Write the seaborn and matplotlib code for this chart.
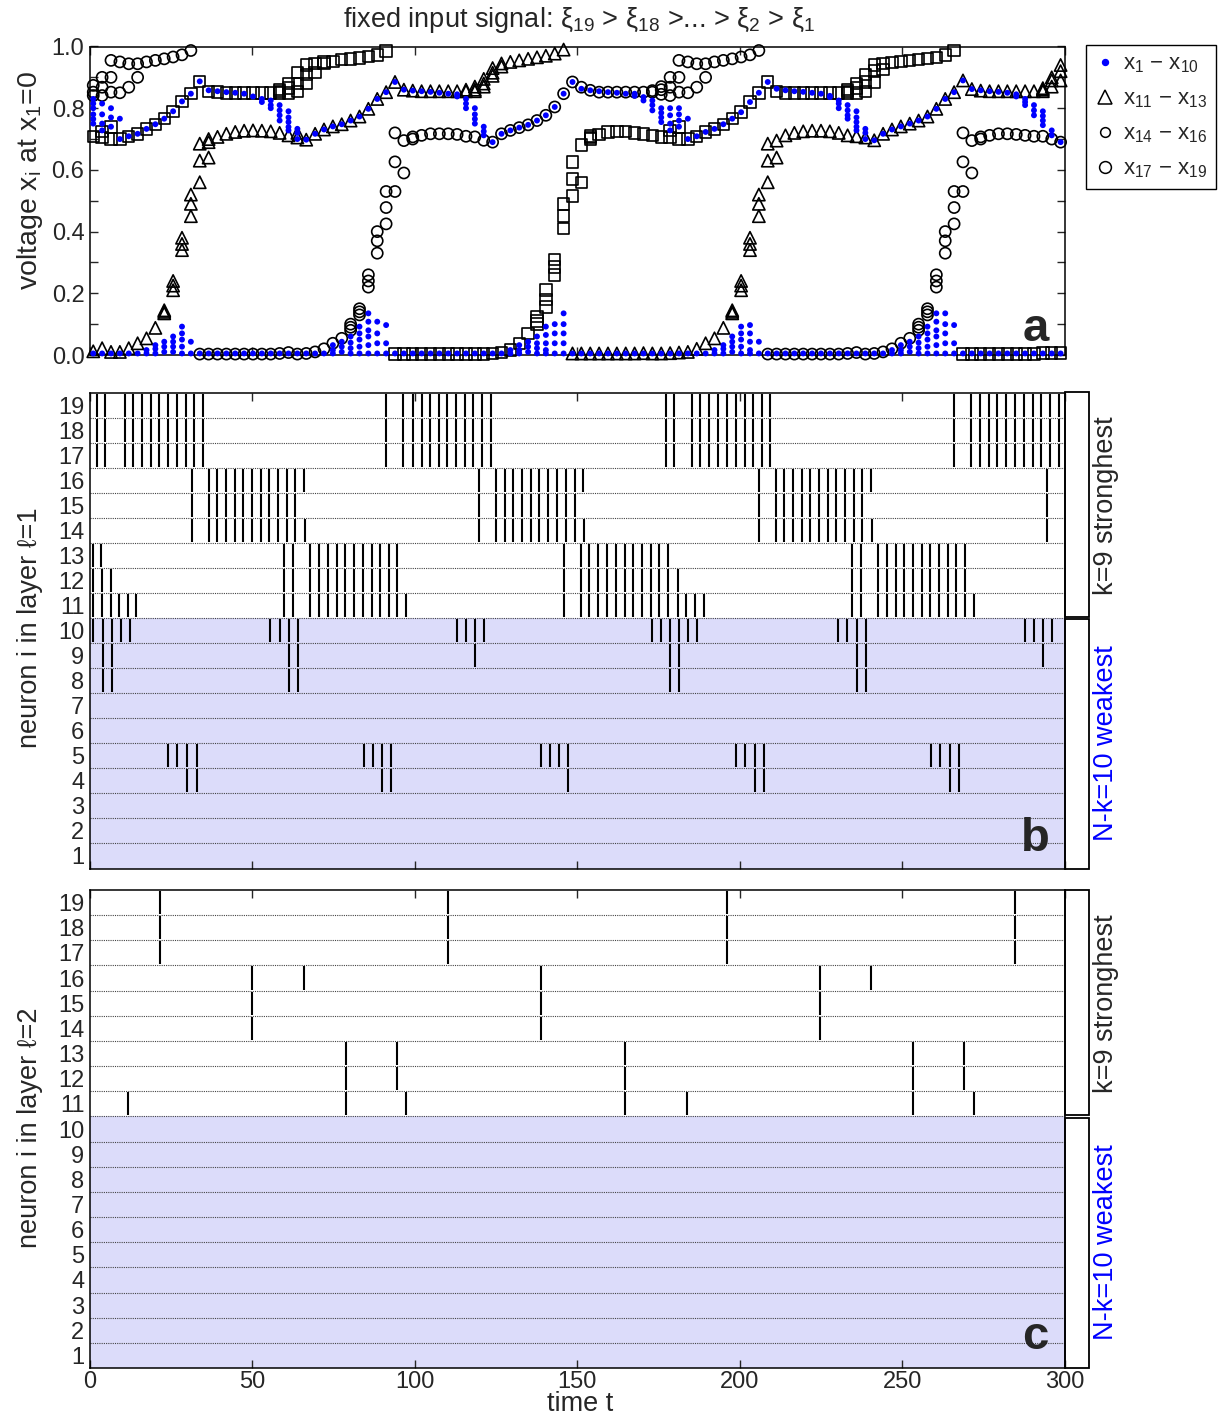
import numpy as np
import pandas as pd
import matplotlib
matplotlib.use("Agg")
import matplotlib.pyplot as plt
import seaborn as sns
from matplotlib.lines import Line2D
from matplotlib.patches import Rectangle
from matplotlib.ticker import MultipleLocator, FormatStrFormatter

# ---------------- data ----------------
# sample times of panel a
t_samples = np.linspace(1.0, 298.8, 110)

# triangles x11-x13 (one value, or the separate values where the markers split)
x11_13 = [
    0.012, 0.022, 0.010, 0.010, 0.022, 0.038, 0.054, 0.088, (0.135, 0.14, 0.145), (0.21, 0.225, 0.24),
    (0.34, 0.36, 0.38), (0.45, 0.49, 0.52), (0.56, 0.63, 0.685), (0.64, 0.69, 0.70), 0.707, 0.717, 0.723, 0.727, 0.728, 0.727,
    0.725, 0.72, 0.712, (0.705, 0.72), 0.698, 0.717, 0.731, 0.741, 0.748, 0.76,
    0.773, 0.798, 0.83, 0.852, 0.885, 0.86, 0.857, 0.855, 0.855, 0.855,
    0.855, 0.855, (0.855, 0.86), (0.86, 0.855, 0.87), (0.87, 0.895, 0.88), (0.905, 0.93, 0.915), (0.935, 0.945), 0.95, 0.955, 0.96,
    0.965, 0.97, 0.977, 0.99, 0.005, 0.005, 0.005, 0.005, 0.005, 0.005,
    0.005, 0.005, 0.006, 0.005, 0.005, 0.006, 0.008, 0.01, 0.02, 0.038,
    0.054, 0.088, (0.135, 0.14, 0.145), (0.21, 0.225, 0.24), (0.34, 0.36, 0.38), (0.45, 0.49, 0.52), (0.56, 0.63, 0.685), (0.64, 0.695), 0.712, 0.72,
    0.725, 0.727, 0.727, 0.725, 0.72, 0.712, 0.709, 0.705, 0.696, 0.717,
    0.731, 0.741, 0.75, 0.76, 0.773, 0.798, 0.83, 0.852, 0.89, 0.862,
    0.857, 0.855, 0.855, 0.855, 0.855, 0.855, 0.855, (0.855, 0.86, 0.865), (0.87, 0.89, 0.90), (0.89, 0.92, 0.94),
]

# squares x17-x19
x17_19 = [
    0.709, (0.725, 0.705), (0.739, 0.70), 0.70, 0.709, 0.717, 0.733, 0.748, 0.766, 0.79,
    0.822, 0.847, 0.887, 0.855, 0.852, 0.85, 0.85, 0.85, 0.85, 0.85,
    0.85, (0.85, 0.855, 0.86), (0.85, 0.865, 0.88), (0.855, 0.88, 0.915), (0.88, 0.91, 0.94), (0.915, 0.945), (0.945, 0.95), 0.952, 0.957, 0.96,
    0.963, 0.967, 0.973, 0.986, 0.003, 0.003, 0.003, 0.003, 0.003, 0.003,
    0.003, 0.003, 0.003, 0.003, 0.003, 0.004, 0.008, 0.016, 0.038, 0.07,
    (0.10, 0.11, 0.125), (0.155, 0.18, 0.21), (0.26, 0.285, 0.31), (0.41, 0.45, 0.49), (0.515, 0.57, 0.626), (0.56, 0.68), (0.70, 0.705, 0.71), 0.715, 0.723, 0.725,
    0.725, 0.72, 0.717, 0.712, 0.707, (0.728, 0.705), (0.739, 0.70), 0.70, 0.709, 0.723,
    0.733, 0.748, 0.766, 0.787, 0.82, 0.85, 0.885, 0.855, 0.85, 0.85,
    0.85, 0.85, 0.85, 0.85, 0.85, (0.85, 0.855, 0.86), (0.85, 0.865, 0.88), (0.855, 0.885, 0.91), (0.885, 0.92, 0.94), (0.925, 0.945),
    0.948, 0.952, 0.955, 0.958, 0.961, 0.965, 0.972, 0.987, 0.003, 0.003,
    0.003, 0.003, 0.003, 0.003, 0.003, 0.003, 0.003, 0.006, 0.006, 0.006,
]

# circles x14-x16
x14_16 = [
    (0.874, 0.852, 0.841), (0.90, 0.868, 0.841), (0.955, 0.90, 0.852), (0.95, 0.85), (0.944, 0.868), (0.944, 0.90), 0.95, 0.955, 0.96, 0.966,
    0.973, 0.987, 0.003, 0.003, 0.003, 0.003, 0.003, 0.003, 0.003, 0.003,
    0.003, 0.005, 0.008, 0.003, 0.005, 0.01, 0.02, 0.038, 0.054, (0.08, 0.09, 0.10),
    (0.13, 0.14, 0.15), (0.22, 0.24, 0.26), (0.33, 0.37, 0.40), (0.425, 0.478, 0.53), (0.53, 0.626, 0.72), (0.59, 0.695), (0.70, 0.707), 0.712, 0.717, 0.717,
    0.717, 0.715, 0.709, 0.707, 0.696, 0.69, 0.717, 0.728, 0.737, 0.746,
    0.76, 0.777, 0.804, 0.847, 0.885, 0.868, 0.858, 0.852, 0.852, 0.852,
    0.852, 0.852, 0.852, (0.852, 0.857), (0.86, 0.845, 0.87), (0.90, 0.868, 0.841), (0.955, 0.90, 0.852), (0.95, 0.85), (0.944, 0.868), (0.944, 0.90),
    0.95, 0.955, 0.96, 0.966, 0.973, 0.987, 0.003, 0.003, 0.003, 0.003,
    0.003, 0.003, 0.003, 0.003, 0.003, 0.005, 0.008, 0.003, 0.005, 0.01,
    0.02, 0.038, 0.054, (0.08, 0.09, 0.10), (0.13, 0.14, 0.15), (0.22, 0.24, 0.26), (0.33, 0.37, 0.40), (0.425, 0.478, 0.53), (0.53, 0.626, 0.72), (0.59, 0.695),
    (0.70, 0.707), 0.712, 0.717, 0.717, 0.715, 0.712, 0.709, 0.709, 0.70, 0.69,
]

# blue dots x1-x10: visible dot heights at each sample
x1_10 = [
    [0.83, 0.815, 0.80, 0.78, 0.765, 0.75, 0.005], [0.815, 0.78, 0.75, 0.728, 0.005], [0.80, 0.77, 0.74, 0.005], [0.766, 0.70, 0.005], [0.709, 0.005],
    [0.717, 0.005], [0.733, 0.016, 0.005], [0.748, 0.032, 0.02, 0.005], [0.766, 0.043, 0.027, 0.01], [0.79, 0.06, 0.043, 0.027, 0.01],
    [0.822, 0.092, 0.07, 0.05, 0.027, 0.005], [0.847, 0.043, 0.005], [0.887, 0.005], [0.858, 0.005], [0.855, 0.005],
    [0.852, 0.005], [0.85, 0.005], [0.847, 0.005], [0.838, 0.005], [0.83, 0.82, 0.005],
    [0.825, 0.81, 0.80, 0.005], [0.81, 0.793, 0.777, 0.76, 0.005], [0.79, 0.77, 0.755, 0.739, 0.728, 0.005], [0.733, 0.72, 0.70, 0.005], [0.698, 0.005],
    [0.717, 0.005], [0.731, 0.005], [0.741, 0.032, 0.016, 0.005], [0.748, 0.043, 0.027, 0.01], [0.76, 0.06, 0.04, 0.022, 0.005],
    [0.773, 0.092, 0.07, 0.05, 0.027, 0.005], [0.798, 0.135, 0.108, 0.08, 0.06, 0.032, 0.005], [0.83, 0.108, 0.07, 0.038, 0.005], [0.852, 0.097, 0.038, 0.005], [0.885, 0.005],
    [0.86, 0.005], [0.857, 0.005], [0.855, 0.005], [0.853, 0.005], [0.85, 0.005],
    [0.847, 0.005], [0.845, 0.838, 0.005], [0.83, 0.815, 0.80, 0.005], [0.80, 0.78, 0.765, 0.75, 0.005], [0.74, 0.725, 0.712, 0.005],
    [0.69, 0.005], [0.717, 0.005], [0.728, 0.016, 0.005], [0.737, 0.032, 0.016, 0.005], [0.746, 0.043, 0.027, 0.01],
    [0.76, 0.06, 0.038, 0.022, 0.005], [0.777, 0.092, 0.065, 0.038, 0.016, 0.005], [0.804, 0.10, 0.07, 0.038, 0.005], [0.847, 0.135, 0.10, 0.07, 0.038, 0.005], [0.885, 0.005],
    [0.863, 0.005], [0.858, 0.005], [0.855, 0.005], [0.852, 0.005], [0.85, 0.005],
    [0.847, 0.005], [0.847, 0.84, 0.005], [0.836, 0.825, 0.005], [0.825, 0.81, 0.793, 0.005], [0.80, 0.785, 0.77, 0.755, 0.005],
    [0.80, 0.777, 0.75, 0.728, 0.005], [0.80, 0.78, 0.76, 0.74, 0.005], [0.766, 0.70, 0.005], [0.709, 0.005], [0.723, 0.005],
    [0.733, 0.016, 0.005], [0.748, 0.032, 0.02, 0.005], [0.766, 0.06, 0.043, 0.027, 0.01], [0.787, 0.092, 0.07, 0.05, 0.027, 0.005], [0.82, 0.097, 0.07, 0.043, 0.016, 0.005],
    [0.85, 0.043, 0.005], [0.885, 0.005], [0.863, 0.005], [0.858, 0.005], [0.855, 0.005],
    [0.853, 0.005], [0.85, 0.005], [0.847, 0.005], [0.84, 0.836, 0.005], [0.825, 0.815, 0.80, 0.005],
    [0.81, 0.793, 0.777, 0.766, 0.005], [0.79, 0.77, 0.755, 0.74, 0.728, 0.005], [0.733, 0.72, 0.70, 0.005], [0.696, 0.005], [0.717, 0.005],
    [0.731, 0.016, 0.005], [0.741, 0.032, 0.016, 0.005], [0.75, 0.043, 0.027, 0.01], [0.76, 0.06, 0.04, 0.022, 0.005], [0.773, 0.092, 0.07, 0.05, 0.027, 0.005],
    [0.798, 0.135, 0.108, 0.08, 0.06, 0.032, 0.005], [0.83, 0.135, 0.10, 0.07, 0.038, 0.005], [0.852, 0.097, 0.038, 0.005], [0.89, 0.005], [0.862, 0.005],
    [0.858, 0.005], [0.855, 0.005], [0.853, 0.005], [0.85, 0.005], [0.845, 0.838, 0.005],
    [0.83, 0.82, 0.81, 0.005], [0.81, 0.793, 0.777, 0.005], [0.79, 0.775, 0.76, 0.745, 0.005], [0.728, 0.712, 0.005], [0.69, 0.005],
]

# spike times, layer 1 (panel b)
L1_R17_19 = [2.3, 4.6, 10.7, 13.3, 16.0, 18.7, 21.3, 24.0, 26.7, 29.4, 32.1, 34.7,
             91.2, 96.5, 99.4, 102.2, 104.7, 107.4, 110.0, 112.7, 115.4, 118.0, 120.7, 123.3,
             177.3, 179.8, 185.3, 187.9, 190.6, 193.3, 196.0, 198.8, 201.5, 204.1, 206.8, 209.2,
             266.1, 271.2, 273.9, 276.7, 279.3, 282.1, 284.9, 287.5, 290.2, 292.9, 295.5, 298.2]
L1_R16 = [31.3, 36.6, 39.2, 41.9, 44.6, 47.2, 49.9, 52.6, 55.2, 57.9, 60.6, 63.2, 65.9,
          119.9, 125.0, 127.7, 130.3, 133.0, 135.7, 138.3, 141.0, 143.7, 146.5, 149.2, 151.8,
          206.0, 211.1, 213.8, 216.4, 219.1, 221.7, 224.4, 227.1, 229.7, 232.4, 235.1, 237.7, 240.4, 294.6]
L1_R15 = [31.3, 36.6, 39.2, 41.9, 44.6, 47.2, 49.9, 52.6, 55.2, 57.9, 60.6, 63.2,
          119.9, 125.0, 127.7, 130.3, 133.0, 135.7, 138.3, 141.0, 143.7, 146.5, 149.2,
          206.0, 211.1, 213.8, 216.4, 219.1, 221.7, 224.4, 227.1, 229.7, 232.4, 235.1, 237.7, 294.6]
L1_R14 = [31.3, 36.6, 39.2, 41.9, 44.6, 47.2, 49.9, 52.6, 55.2, 57.9, 60.6, 63.2, 66.1,
          119.9, 125.0, 127.7, 130.3, 133.0, 135.7, 138.3, 141.0, 143.7, 146.5, 149.2, 152.0,
          206.0, 211.1, 213.8, 216.4, 219.1, 221.7, 224.4, 227.1, 229.7, 232.4, 235.1, 237.7, 240.6, 294.6]
L1_R13 = [1.0, 3.4,
          59.6, 62.5, 67.8, 70.5, 73.3, 75.9, 78.6, 81.3, 84.0, 86.7, 89.4, 92.0, 94.5,
          145.8, 151.1, 153.7, 156.5, 159.1, 161.9, 164.6, 167.2, 169.9, 172.7, 175.2, 178.0,
          234.7, 237.2, 242.6, 245.3, 248.0, 250.7, 253.4, 256.2, 258.7, 261.3, 264.1, 266.7, 269.3]
L1_R12 = [1.0, 3.8, 6.5,
          59.6, 62.5, 67.8, 70.5, 73.3, 75.9, 78.6, 81.3, 84.0, 86.7, 89.4, 92.0, 94.5,
          145.8, 151.1, 153.7, 156.5, 159.1, 161.9, 164.6, 167.2, 169.9, 172.7, 175.2, 178.0, 180.9,
          234.7, 237.2, 242.6, 245.3, 248.0, 250.7, 253.4, 256.2, 258.7, 261.3, 264.1, 266.7, 269.3]
L1_R11 = [1.0, 3.8, 6.5, 9.0, 11.8, 14.1,
          59.6, 62.5, 67.8, 70.5, 73.3, 75.9, 78.6, 81.3, 84.0, 86.7, 89.4, 92.0, 94.5, 97.3,
          145.8, 151.1, 153.7, 156.5, 159.1, 161.9, 164.6, 167.2, 169.9, 172.7, 175.2, 178.0, 180.9, 183.6, 186.3, 189.0,
          234.7, 237.2, 242.6, 245.3, 248.0, 250.7, 253.4, 256.2, 258.7, 261.3, 264.1, 266.7, 269.3, 272.1]
L1_R10 = [1.0, 3.9, 6.7, 9.4, 12.3, 55.5, 58.4, 61.3, 64.0, 113.0, 115.8, 118.6, 121.4,
          173.0, 175.7, 178.6, 181.4, 184.1, 186.9, 230.4, 233.1, 236.0, 238.8, 287.7, 290.5, 293.3, 296.1]
L1_R9 = [3.9, 6.9, 61.3, 64.0, 118.6, 178.6, 181.4, 236.0, 238.8, 293.3]
L1_R8 = [3.9, 6.9, 61.3, 64.0, 178.6, 181.4, 236.0, 238.8]
L1_R5 = [24.1, 26.9, 29.9, 32.8, 84.2, 87.1, 90.0, 92.7, 138.8, 141.7, 144.5, 147.2,
         198.8, 201.7, 204.6, 207.5, 259.0, 261.8, 264.7, 267.4]
L1_R4 = [29.9, 32.8, 90.0, 92.7, 147.2, 204.6, 207.5, 264.7, 267.4]

# spike times, layer 2 (panel c)
L2_R17_19 = [21.5, 110.1, 196.2, 284.9]
L2_R16 = [50.0, 65.8, 138.8, 224.7, 240.5]
L2_R14_15 = [50.0, 138.8, 224.7]
L2_R12_13 = [78.7, 94.5, 164.7, 253.4, 269.2]
L2_R11 = [11.8, 78.7, 97.3, 164.7, 183.7, 253.4, 272.1]

neuron_labels = [str(i) for i in range(1, 20)]
legend_labels = ["x$_{1}$ \u2212 x$_{10}$", "x$_{11}$ \u2212 x$_{13}$",
                 "x$_{14}$ \u2212 x$_{16}$", "x$_{17}$ \u2212 x$_{19}$"]

# ---------------- style ----------------
sns.set_theme(style="white")
plt.rcParams["font.family"] = ["Liberation Sans", "DejaVu Sans"]
plt.rcParams["mathtext.fontset"] = "custom"
plt.rcParams["mathtext.rm"] = "Liberation Sans"
plt.rcParams["mathtext.it"] = "Liberation Sans:italic"
plt.rcParams["mathtext.bf"] = "Liberation Sans:bold"
plt.rcParams["axes.linewidth"] = 1.1
plt.rcParams["axes.edgecolor"] = "black"

BLUE = "#0000ff"
SHADE = "#dcdcfa"
FS = 17      # tick labels
LFS = 19.5   # axis labels, title, side texts

W, H = 1218, 1416
fig = plt.figure(figsize=(W / 100, H / 100), dpi=100)


def box(l, t, r, b):
    return [l / W, 1 - b / H, (r - l) / W, (b - t) / H]


X0, X1 = 90, 1064.5
A_T, A_B = 46.5, 355
B_T, B_B = 392.5, 868.5
C_T, C_B = 890, 1368
ax_a = fig.add_axes(box(X0, A_T, X1, A_B))
ax_b = fig.add_axes(box(X0, B_T, X1, B_B))
ax_c = fig.add_axes(box(X0, C_T, X1, C_B))


def long_form(entries):
    xs, ys = [], []
    for tt, e in zip(t_samples, entries):
        vals = e if isinstance(e, (tuple, list)) else (e,)
        for v in vals:
            xs.append(tt)
            ys.append(v)
    return pd.DataFrame({"t": xs, "v": ys})


# ---------------- panel a ----------------
for entries, mk, size in [(x17_19, "s", 68), (x11_13, "^", 78), (x14_16, "o", 64)]:
    sns.scatterplot(data=long_form(entries), x="t", y="v", ax=ax_a, marker=mk, s=size,
                    facecolors="none", edgecolor="black", linewidth=1.2,
                    clip_on=False, legend=False, zorder=3)
sns.scatterplot(data=long_form(x1_10), x="t", y="v", ax=ax_a, marker="o", s=18,
                color=BLUE, edgecolor="none", linewidth=0, clip_on=False,
                legend=False, zorder=4)

ax_a.set_xlim(0, 300)
ax_a.set_ylim(0, 1)
ax_a.set_xlabel("")
ax_a.set_ylabel("")
ax_a.xaxis.set_major_locator(MultipleLocator(50))
ax_a.yaxis.set_major_locator(MultipleLocator(0.2))
ax_a.yaxis.set_minor_locator(MultipleLocator(0.1))
ax_a.yaxis.set_major_formatter(FormatStrFormatter("%.1f"))
ax_a.tick_params(axis="both", which="both", direction="in", top=True, bottom=True,
                 left=True, right=True, length=6, width=1, labelsize=FS, pad=4)
ax_a.tick_params(axis="x", labelbottom=False)
ax_a.text(0.970, 0.045, "a", transform=ax_a.transAxes, ha="center", va="baseline",
          fontsize=34, fontweight="bold")

handles = [
    Line2D([], [], ls="none", marker="o", ms=4.3, mfc=BLUE, mec=BLUE),
    Line2D([], [], ls="none", marker="^", ms=9.5, mfc="none", mec="black", mew=1.1),
    Line2D([], [], ls="none", marker="o", ms=7, mfc="none", mec="black", mew=1.1),
    Line2D([], [], ls="none", marker="o", ms=8.5, mfc="none", mec="black", mew=1.1),
]
leg = ax_a.legend(handles, legend_labels, loc="upper left",
                  bbox_to_anchor=((1086 - X0) / (X1 - X0), (A_B - 45) / (A_B - A_T)),
                  frameon=True, fancybox=False, framealpha=1, edgecolor="black",
                  fontsize=16, handlelength=0.9, handletextpad=0.35, borderpad=0.4,
                  labelspacing=0.6, borderaxespad=0)
leg.get_frame().set_linewidth(1.0)


# ---------------- raster panels ----------------
def raster(ax, rows):
    ax.axhspan(0.5, 10.5, color=SHADE, lw=0, zorder=0)
    for r in range(1, 19):
        ax.axhline(r + 0.5, color="#444444", lw=0.8, ls=(0, (1, 1)), zorder=1)
    for r, times in rows.items():
        ax.vlines(times, r - 0.46, r + 0.46, color="black", lw=1.5, zorder=2)
    ax.set_xlim(0, 300)
    ax.set_ylim(0.5, 19.5)
    ax.set_yticks(range(1, 20))
    ax.set_yticklabels(neuron_labels)
    ax.xaxis.set_major_locator(MultipleLocator(50))
    ax.tick_params(axis="y", length=0, labelsize=FS, pad=4, left=False, right=False)
    ax.tick_params(axis="x", direction="in", top=True, bottom=True, length=6, width=1,
                   labelsize=FS, pad=2)


raster(ax_b, {19: L1_R17_19, 18: L1_R17_19, 17: L1_R17_19, 16: L1_R16, 15: L1_R15,
              14: L1_R14, 13: L1_R13, 12: L1_R12, 11: L1_R11, 10: L1_R10, 9: L1_R9,
              8: L1_R8, 5: L1_R5, 4: L1_R4})
raster(ax_c, {19: L2_R17_19, 18: L2_R17_19, 17: L2_R17_19, 16: L2_R16, 15: L2_R14_15,
              14: L2_R14_15, 13: L2_R12_13, 12: L2_R12_13, 11: L2_R11})
ax_b.tick_params(axis="x", labelbottom=False)
ax_b.text(0.970, 0.037, "b", transform=ax_b.transAxes, ha="center", va="baseline",
          fontsize=34, fontweight="bold")
ax_c.text(0.970, 0.040, "c", transform=ax_c.transAxes, ha="center", va="baseline",
          fontsize=34, fontweight="bold")


# brackets on the right
def frect(l, t, r, b):
    fig.add_artist(Rectangle((l / W, 1 - b / H), (r - l) / W, (b - t) / H,
                             transform=fig.transFigure, fill=False,
                             edgecolor="black", lw=1.3))


for top, bot in [(B_T, B_B), (C_T, C_B)]:
    mid = top + 9 * (bot - top) / 19
    frect(1065, top, 1089, mid - 1.2)
    frect(1065, mid + 1.2, 1089, bot)
    fig.text(1106 / W, 1 - (top + mid) / 2 / H, "k=9 stronghest", rotation=90,
             ha="center", va="center", fontsize=LFS)
    fig.text(1106 / W, 1 - (mid + bot) / 2 / H, "N-k=10 weakest", rotation=90,
             ha="center", va="center", fontsize=LFS, color=BLUE)

# texts
fig.text(579 / W, 1 - 20 / H,
         "fixed input signal: \u03be$_{19}$ > \u03be$_{18}$ >... > \u03be$_{2}$ > \u03be$_{1}$",
         ha="center", va="center", fontsize=LFS)
fig.text(30 / W, 1 - 181 / H, "voltage x$_\\mathrm{i}$ at x$_{1}$=0", rotation=90,
         ha="center", va="center", fontsize=LFS + 1)
fig.text(30 / W, 1 - 628 / H, "neuron i in layer \u2113=1", rotation=90,
         ha="center", va="center", fontsize=LFS)
fig.text(30 / W, 1 - 1128 / H, "neuron i in layer \u2113=2", rotation=90,
         ha="center", va="center", fontsize=LFS)
fig.text(580 / W, 1 - 1404 / H, "time t", ha="center", va="center", fontsize=LFS)

fig.savefig("out.png", dpi=100)
